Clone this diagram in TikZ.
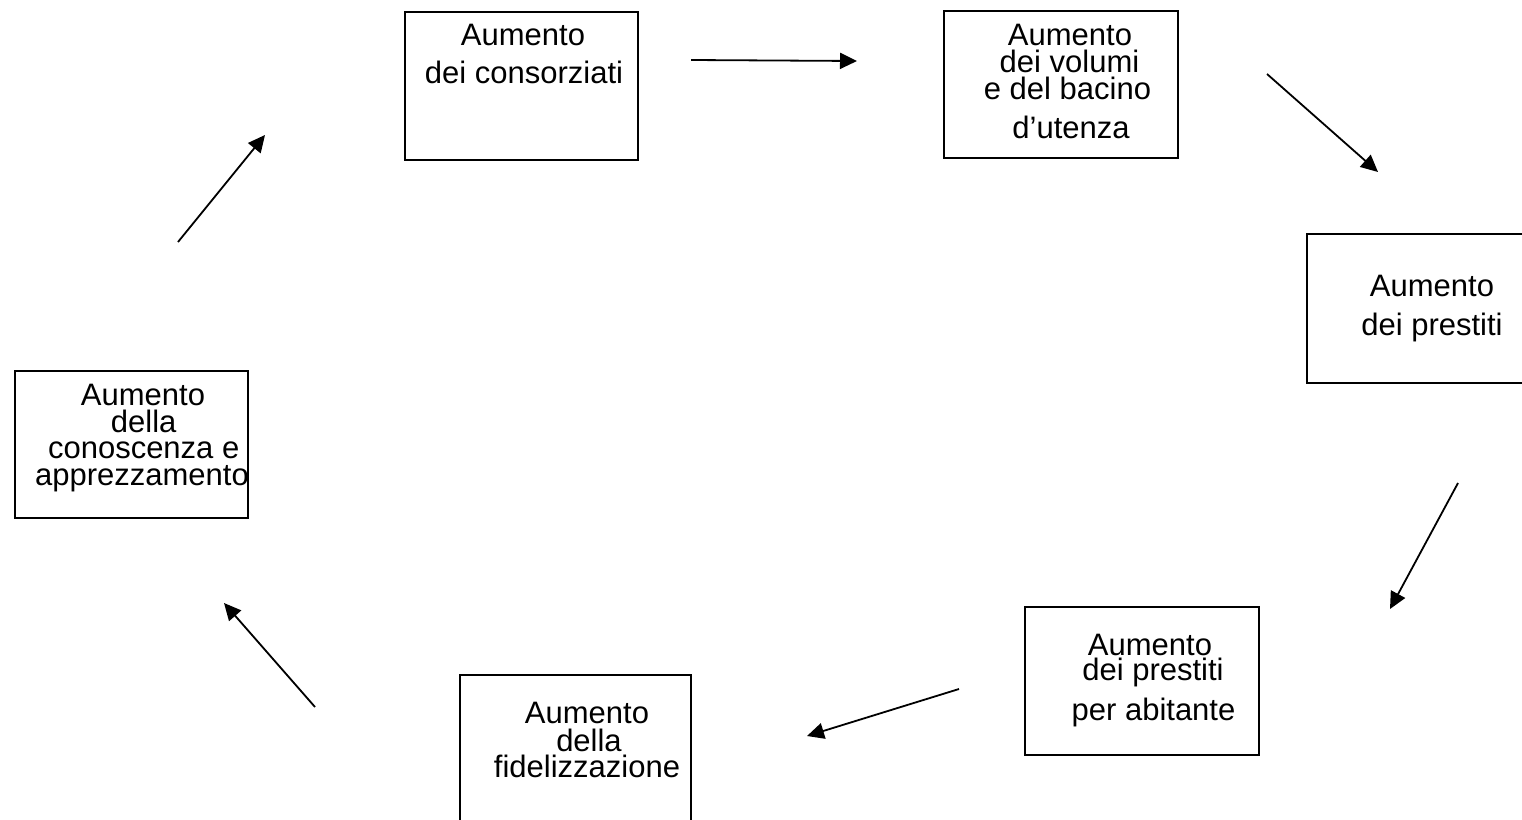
\documentclass[tikz,border=0pt]{standalone}
\usepackage{fontspec}
\setmainfont{Liberation Sans}
\usetikzlibrary{arrows.meta}
\begin{document}
\begin{tikzpicture}[x=1pt,y=-1pt,
  box/.style={draw, line width=1.5pt, inner sep=0pt, minimum width=233pt, minimum height=148pt},
  txt/.style={anchor=base, inner sep=0pt, font=\fontsize{31}{31}\selectfont},
  arr/.style={line width=1.8pt, -{Triangle[length=17pt,width=16pt]}}]
\useasboundingbox (0,0) rectangle (1522,819);
\clip (0,0) rectangle (1522,819);
\fill[white] (0,0) rectangle (1522,819);
% boxes
\node[box] (b1) at (521.5,86) {};
\node[box, minimum width=234pt, minimum height=147pt] (b2) at (1061,84.5) {};
\node[box, minimum height=149pt] (b3) at (1423.5,308.5) {};
\node[box, minimum width=234pt] (b4) at (1142,681) {};
\node[box, minimum width=231pt] (b5) at (575.5,749) {};
\node[box, minimum height=147pt] (b6) at (131.5,444.5) {};
% texts
\node[txt] (t1a) at (523,45) {Aumento};
\node[txt] (t1b) at (524,83) {dei consorziati};
\node[txt] (t2a) at (1070,45) {Aumento};
\node[txt] (t2b) at (1069.5,72) {dei volumi};
\node[txt] (t2c) at (1067.5,99) {e del bacino};
\node[txt] (t2d) at (1071,138) {d’utenza};
\node[txt] (t3a) at (1432,296) {Aumento};
\node[txt] (t3b) at (1432,335) {dei prestiti};
\node[txt] (t4a) at (1150,655) {Aumento};
\node[txt] (t4b) at (1153,680) {dei prestiti};
\node[txt] (t4c) at (1153.5,720) {per abitante};
\node[txt] (t5a) at (587,723) {Aumento};
\node[txt] (t5b) at (589,751) {della};
\node[txt] (t5c) at (587,777) {fidelizzazione};
\node[txt] (t6a) at (143,405) {Aumento};
\node[txt] (t6b) at (143.7,432) {della};
\node[txt] (t6c) at (143.7,458) {conoscenza e};
\node[txt] (t6d) at (142,485) {apprezzamento};
% arrow ends
\coordinate (a1s) at (691,60);   \coordinate (a1e) at (857,61);
\coordinate (a2s) at (1267,74);  \coordinate (a2e) at (1378,172);
\coordinate (a3s) at (1458,483); \coordinate (a3e) at (1390,609);
\coordinate (a4s) at (959,689);  \coordinate (a4e) at (807,736);
\coordinate (a5s) at (315,707);  \coordinate (a5e) at (224,603);
\coordinate (a6s) at (178,242);  \coordinate (a6e) at (265,135);
\draw[arr] (a1s) -- (a1e);
\draw[arr] (a2s) -- (a2e);
\draw[arr] (a3s) -- (a3e);
\draw[arr] (a4s) -- (a4e);
\draw[arr] (a5s) -- (a5e);
\draw[arr] (a6s) -- (a6e);
\end{tikzpicture}
\end{document}
